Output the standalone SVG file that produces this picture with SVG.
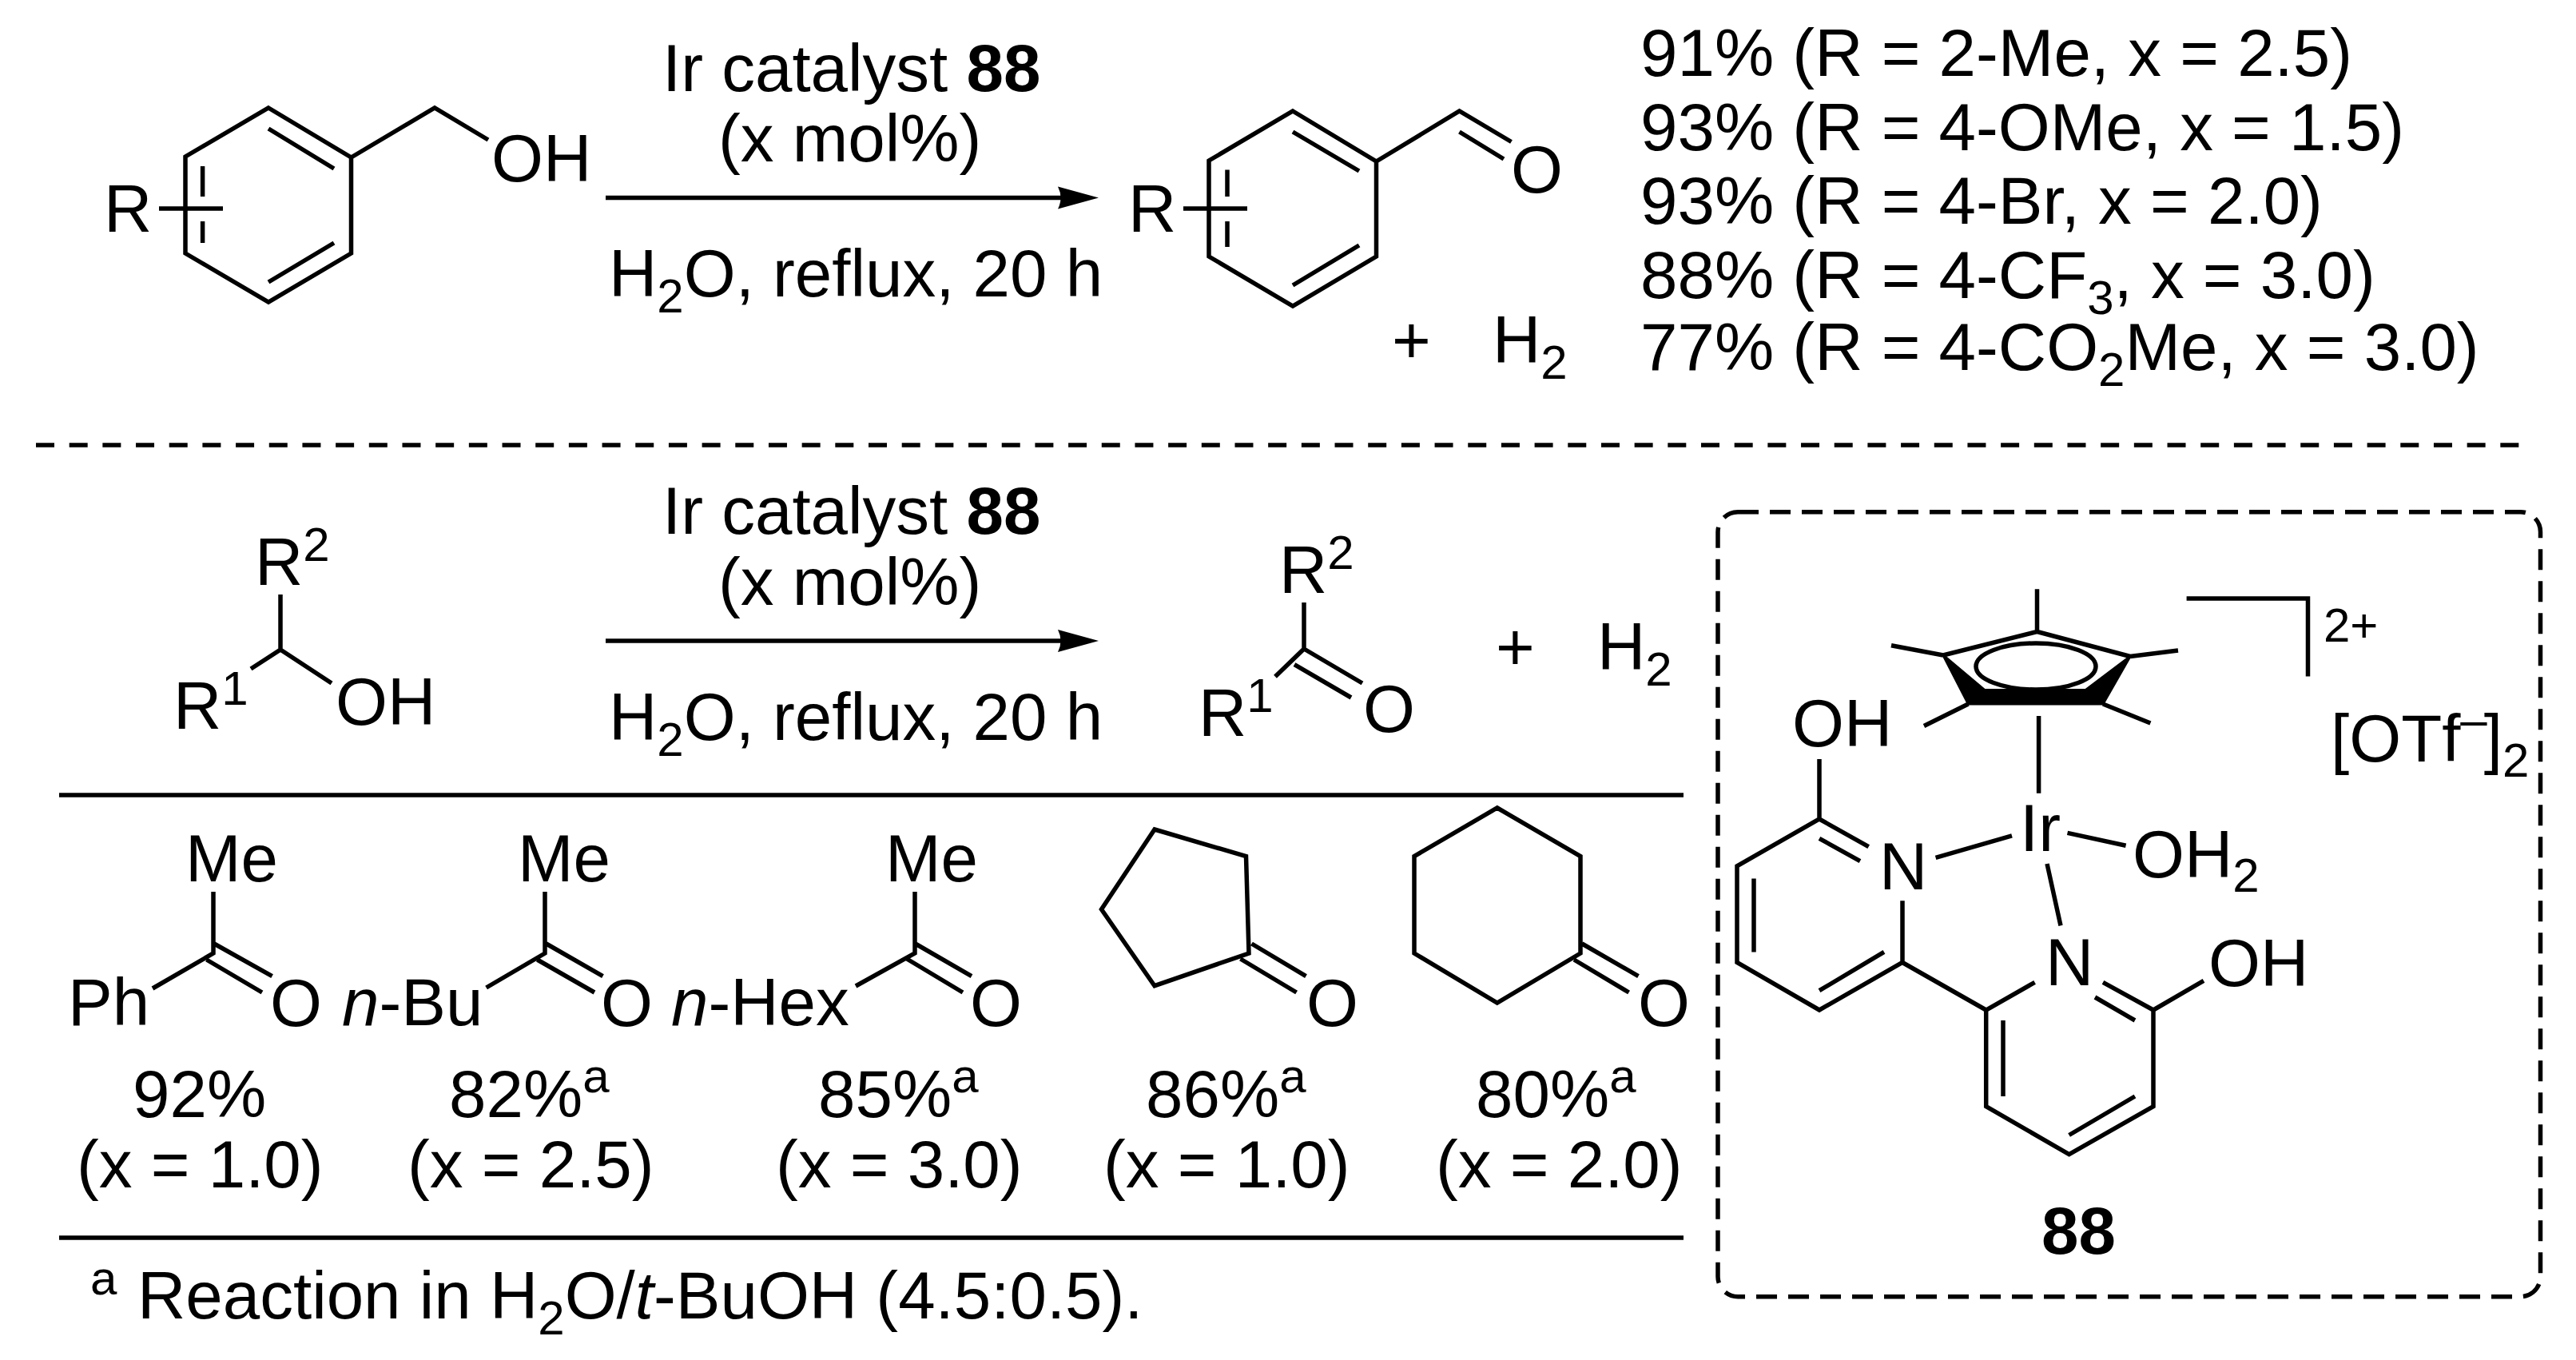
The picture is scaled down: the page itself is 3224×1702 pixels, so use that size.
<svg xmlns="http://www.w3.org/2000/svg" width="3224" height="1702" viewBox="0 0 3224 1702">
<style>
text{font-family:"Liberation Sans",Arial,Helvetica,sans-serif;font-size:83.5px;fill:#000}
.b{font-weight:bold}
.i{font-style:italic}
.s{font-size:60px}
.bond{fill:none;stroke:#000;stroke-width:5.5;stroke-linejoin:miter;stroke-linecap:butt}
.rule{fill:none;stroke:#000;stroke-width:5.5}
.dash{fill:none;stroke:#000;stroke-width:5.5;stroke-dasharray:23 18.68}
.box{fill:none;stroke:#000;stroke-width:5.5;stroke-dasharray:26 14}
</style>
<defs>
<marker id="ah" markerUnits="userSpaceOnUse" markerWidth="54" markerHeight="30" refX="8" refY="15" orient="auto"><path d="M2,1 L53,15 L2,29 Q9,15 2,1Z" fill="#000"/></marker>
</defs>
<g id="connectors">
<line class="rule" x1="758" y1="247.5" x2="1330" y2="247.5" marker-end="url(#ah)"/>
<line class="rule" x1="758" y1="802" x2="1330" y2="802" marker-end="url(#ah)"/>
<line class="dash" x1="45" y1="557" x2="3155" y2="557"/>
<line class="rule" x1="74" y1="995" x2="2107" y2="995"/>
<line class="rule" x1="74" y1="1549" x2="2107" y2="1549"/>
</g>
<g id="benzyl-alcohol">
<path class="bond" d="M336,135L439.5,197V317L336,378L232,317V196ZM439.5,197L544,135L611,175M336,161L418,211M253.6,208V246M253.6,277V304M418,304L336,353M199,261H279"/>
<text x="130" y="290">R</text><text x="615" y="227">OH</text>
</g>
<g id="conditions-1">
<text x="829" y="114">Ir catalyst <tspan class="b">88</tspan></text>
<text x="899" y="202">(x mol%)</text>
<text x="762" y="371">H<tspan class="s" dy="20">2</tspan><tspan dy="-20">O, reflux, 20 h</tspan></text>
</g>
<g id="benzaldehyde">
<path class="bond" d="M1618,139L1722.5,202V321L1618,383L1513,321V201ZM1722.5,202L1826.5,139L1891.5,177.5M1826.5,165L1882,199M1618,165L1701,214M1536,212.5V246M1536,277V309M1701,307L1618,357M1481,261H1561"/>
<text x="1412" y="290">R</text><text x="1891" y="241">O</text>
<text x="1742" y="454">+</text>
<text x="1868" y="454">H<tspan class="s" dy="20">2</tspan></text>
</g>
<g id="yields-1">
<text x="2053" y="95">91% (R = 2-Me, x = 2.5)</text>
<text x="2053" y="187.5">93% (R = 4-OMe, x = 1.5)</text>
<text x="2053" y="280">93% (R = 4-Br, x = 2.0)</text>
<text x="2053" y="372.5">88% (R = 4-CF<tspan class="s" dy="20">3</tspan><tspan dy="-20">, x = 3.0)</tspan></text>
<text x="2053" y="463">77% (R = 4-CO<tspan class="s" dy="20">2</tspan><tspan dy="-20">Me, x = 3.0)</tspan></text>
</g>
<g id="sec-alcohol">
<path class="bond" d="M351,744V813L314,837M351,813L415,855"/>
<text x="319" y="731.7">R<tspan class="s" dy="-30">2</tspan></text>
<text x="217" y="912">R<tspan class="s" dy="-30">1</tspan></text>
<text x="420" y="907">OH</text>
</g>
<g id="conditions-2">
<text x="829" y="668">Ir catalyst <tspan class="b">88</tspan></text>
<text x="899" y="757">(x mol%)</text>
<text x="762" y="926">H<tspan class="s" dy="20">2</tspan><tspan dy="-20">O, reflux, 20 h</tspan></text>
</g>
<g id="ketone">
<path class="bond" d="M1632,754V812L1596,846.7M1632,812L1705,855M1620,831.7L1691,873"/>
<text x="1601" y="741.7">R<tspan class="s" dy="-30">2</tspan></text>
<text x="1500" y="920.7">R<tspan class="s" dy="-30">1</tspan></text>
<text x="1706" y="916">O</text>
<text x="1872" y="838">+</text>
<text x="1999" y="838">H<tspan class="s" dy="20">2</tspan></text>
</g>
<g id="acetophenone">
<path class="bond" d="M267,1116V1193L191,1237M268,1181L340.6,1221.6M258.5,1201L328,1242"/>
<text x="232" y="1103">Me</text><text x="85" y="1283">Ph</text><text x="338" y="1284">O</text>
<text x="166" y="1397.5">92%</text><text x="96" y="1486">(x = 1.0)</text>
</g>
<g id="hexanone">
<path class="bond" d="M682,1116V1193L608.6,1236M683.6,1181L754.5,1221.6M672.4,1201L744,1242"/>
<text x="648" y="1103">Me</text><text x="428" y="1283"><tspan class="i">n</tspan>-Bu</text><text x="752" y="1284">O</text>
<text x="562" y="1397.5">82%<tspan class="s" dy="-31">a</tspan></text><text x="510" y="1486">(x = 2.5)</text>
</g>
<g id="octanone">
<path class="bond" d="M1145,1116V1193L1071,1234M1145.6,1181L1216,1221.6M1135,1200L1205,1242"/>
<text x="1108" y="1103">Me</text><text x="840" y="1283"><tspan class="i">n</tspan>-Hex</text><text x="1214" y="1284">O</text>
<text x="1024" y="1397.5">85%<tspan class="s" dy="-31">a</tspan></text><text x="971" y="1486">(x = 3.0)</text>
</g>
<g id="cyclopentanone">
<path class="bond" d="M1445,1038L1559.5,1071.6L1563,1193L1445,1233.7L1378.5,1138ZM1566.5,1181L1634.5,1221.6M1552.5,1200L1622.6,1242"/>
<text x="1635" y="1284">O</text>
<text x="1434" y="1397.5">86%<tspan class="s" dy="-31">a</tspan></text><text x="1381" y="1486">(x = 1.0)</text>
</g>
<g id="cyclohexanone">
<path class="bond" d="M1873.8,1011L1978,1071.6V1193L1873.8,1255L1770,1193V1071.6ZM1980,1181L2050.5,1221.6M1970,1201L2038.6,1242"/>
<text x="2050" y="1284">O</text>
<text x="1847" y="1397.5">80%<tspan class="s" dy="-31">a</tspan></text><text x="1797" y="1486">(x = 2.0)</text>
</g>
<g id="footnote">
<text class="s" x="113" y="1620">a</text>
<text x="172" y="1650">Reaction in H<tspan class="s" dy="20">2</tspan><tspan dy="-20">O/</tspan><tspan class="i">t</tspan>-BuOH (4.5:0.5).</text>
</g>
<g id="catalyst-88">
<rect class="box" x="2150" y="640.7" width="1029.5" height="982" rx="25" ry="25"/>
<path class="bond" d="M2549.5,790.5L2432,820M2549.5,790.5L2666,821.5M2549.5,737.3V790.5M2432,820L2367,807.7M2666,821.5L2726,814M2463.4,881L2408,908.5M2632,881L2691.4,905M2551.6,896V992.7"/>
<path d="M2432,820L2463.4,881H2632L2666,821.5L2610,863.6H2484Z" fill="#000" stroke="#000" stroke-width="3" stroke-linejoin="round"/>
<ellipse class="bond" cx="2548" cy="834" rx="75" ry="29"/>
<path class="bond" d="M2587.5,1042.4L2660.6,1058.2M2422.6,1073.4L2518,1045.8M2562,1081L2579,1158.3"/>
<path class="bond" d="M2277,950V1025L2174,1083.8V1204.5L2277,1264L2381,1204.5V1127.3M2277,1025L2338.7,1059.6M2277,1049.3L2328,1077.6M2195,1099.6V1191.4M2277,1239.7L2358,1191.4M2381,1204.5L2485.7,1264"/>
<path class="bond" d="M2546.6,1229.4L2485.7,1264V1384.6L2589.6,1444.7L2695,1384.6V1264L2632,1229.4M2672,1277L2622,1248M2507,1277V1372M2589.6,1420.5L2672,1372M2695,1264L2758,1227.3"/>
<path class="bond" d="M2736.6,749H2888.5V846.4"/>
<text x="2243" y="934">OH</text>
<text x="2352" y="1113.4">N</text>
<text x="2528" y="1065">Ir</text>
<text x="2669" y="1097.6">OH<tspan class="s" dy="18">2</tspan></text>
<text x="2560" y="1232.8">N</text>
<text x="2764" y="1234.2">OH</text>
<text class="s" x="2908" y="803">2+</text>
<text x="2917" y="953.3">[OTf<tspan class="s" dy="-32">–</tspan><tspan dy="32" dx="-4">]</tspan><tspan class="s" dy="19">2</tspan></text>
<text class="b" x="2555" y="1569">88</text>
</g>
</svg>
